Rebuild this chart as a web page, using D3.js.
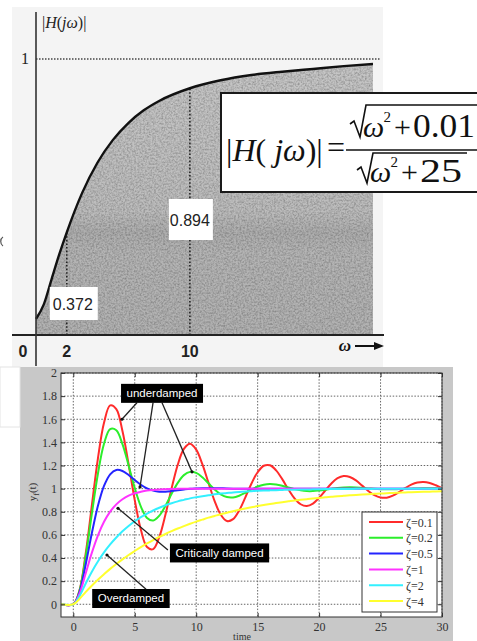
<!DOCTYPE html>
<html><head><meta charset="utf-8">
<script src="https://cdn.jsdelivr.net/npm/d3@7"></script>
<style>html,body{margin:0;padding:0;background:#fff;overflow:hidden}svg{display:block}</style>
</head><body>
<svg id="c" width="477" height="641"></svg>
<script>
// ---------- top chart data: |H(jw)| ----------
const omega = [0, 0.5, 1, 1.5, 2, 3, 4, 5, 6, 7, 8, 10, 12, 14, 16, 18, 20, 21.9];
const magH  = [0.058, 0.11, 0.2, 0.29, 0.372, 0.515, 0.625, 0.707, 0.768, 0.814, 0.848, 0.894, 0.923, 0.942, 0.954, 0.964, 0.974, 0.982];
const omegaTicks = [0, 2, 10];
const omegaTickLabels = ["0", "2", "10"];
const markedOmega = [2, 10];
const markedValue = [0.372, 0.894];
const markedLabels = ["0.372", "0.894"];

// ---------- bottom chart data: step responses ----------
const time = [-1, 0, 0.5, 1, 1.5, 2, 2.5, 3, 3.5, 4, 4.5, 5, 5.5, 6, 6.5, 7, 7.5, 8, 8.5, 9, 9.5,
  10, 10.5, 11, 11.5, 12, 12.5, 13, 13.5, 14, 14.5, 15, 15.5, 16, 16.5, 17, 17.5, 18, 18.5, 19, 19.5,
  20, 20.5, 21, 21.5, 22, 22.5, 23, 23.5, 24, 24.5, 25, 25.5, 26, 26.5, 27, 27.5, 28, 28.5, 29, 29.5, 30];
const zetaLabels = ["ζ=0.1", "ζ=0.2", "ζ=0.5", "ζ=1", "ζ=2", "ζ=4"];
const yZeta01 = [0, 0, 0.118, 0.431, 0.846, 1.258, 1.570, 1.720, 1.688, 1.498, 1.211, 0.901, 0.645, 0.495, 0.477, 0.583, 0.776, 1.003, 1.207, 1.344, 1.388,
  1.337, 1.212, 1.050, 0.892, 0.774, 0.720, 0.736, 0.812, 0.925, 1.045, 1.142, 1.198, 1.202, 1.158, 1.082, 0.994, 0.916, 0.865, 0.850, 0.871,
  0.921, 0.984, 1.045, 1.090, 1.109, 1.101, 1.071, 1.026, 0.980, 0.943, 0.923, 0.922, 0.940, 0.970, 1.004, 1.034, 1.053, 1.058, 1.049, 1.029, 1.005];
const yZeta02 = [0, 0, 0.115, 0.405, 0.775, 1.127, 1.388, 1.515, 1.505, 1.385, 1.201, 1.006, 0.845, 0.747, 0.724, 0.766, 0.852, 0.956, 1.050, 1.117, 1.145,
  1.136, 1.099, 1.046, 0.993, 0.951, 0.927, 0.924, 0.939, 0.964, 0.993, 1.018, 1.034, 1.040, 1.036, 1.025, 1.010, 0.996, 0.985, 0.979, 0.979,
  0.984, 0.991, 0.999, 1.006, 1.010, 1.011, 1.010, 1.006, 1.002, 0.998, 0.995, 0.994, 0.994, 0.996, 0.998, 1.000, 1.002, 1.003, 1.003, 1.003, 1.002];
const yZeta05 = [0, 0, 0.104, 0.340, 0.610, 0.849, 1.023, 1.124, 1.162, 1.153, 1.118, 1.075, 1.034, 1.002, 0.983, 0.974, 0.974, 0.979, 0.986, 0.993, 0.999,
  1.002, 1.004, 1.004, 1.004, 1.003, 1.001, 1, 1, 1, 1, 1, 1, 1, 1, 1, 1,
  1, 1, 1, 1, 1, 1, 1, 1, 1, 1, 1, 1, 1, 1, 1, 1, 1, 1, 1, 1, 1, 1, 1, 1, 1];
const yZeta1 = [0, 0, 0.090, 0.264, 0.442, 0.594, 0.713, 0.801, 0.864, 0.908, 0.939, 0.960, 0.973, 0.983, 0.989, 0.993, 0.995, 0.997, 0.998, 0.999, 0.999,
  1.000, 1, 1, 1, 1, 1, 1, 1, 1, 1, 1, 1, 1, 1, 1, 1, 1, 1, 1, 1,
  1, 1, 1, 1, 1, 1, 1, 1, 1, 1, 1, 1, 1, 1, 1, 1, 1, 1, 1, 1, 1];
const yZeta2 = [0, 0, 0.070, 0.178, 0.280, 0.370, 0.449, 0.518, 0.578, 0.631, 0.677, 0.718, 0.753, 0.784, 0.811, 0.835, 0.856, 0.874, 0.890, 0.903, 0.916,
  0.926, 0.935, 0.943, 0.951, 0.957, 0.962, 0.967, 0.971, 0.975, 0.978, 0.981, 0.983, 0.985, 0.987, 0.989, 0.990, 0.991, 0.992, 0.993, 0.994,
  0.995, 0.996, 0.996, 0.997, 0.997, 0.997, 0.998, 0.998, 0.998, 0.998, 0.999, 0.999, 0.999, 0.999, 0.999, 0.999, 0.999, 0.999, 1.000, 1.000, 1.000];
const yZeta4 = [0, 0, 0.046, 0.105, 0.160, 0.212, 0.260, 0.306, 0.348, 0.388, 0.426, 0.461, 0.495, 0.526, 0.555, 0.582, 0.608, 0.632, 0.655, 0.676, 0.696,
  0.715, 0.732, 0.749, 0.764, 0.779, 0.792, 0.805, 0.817, 0.828, 0.839, 0.849, 0.858, 0.867, 0.875, 0.883, 0.890, 0.897, 0.903, 0.909, 0.915,
  0.920, 0.925, 0.929, 0.934, 0.938, 0.942, 0.945, 0.949, 0.952, 0.955, 0.958, 0.960, 0.963, 0.965, 0.967, 0.969, 0.971, 0.973, 0.974, 0.976, 0.977];
const seriesValues = [yZeta01, yZeta02, yZeta05, yZeta1, yZeta2, yZeta4];
const seriesColors = ["#ff2b2b", "#2bee2b", "#2424ff", "#ff33ff", "#33f0ff", "#ffff2e"];
const timeTicks = [0, 5, 10, 15, 20, 25, 30];
const yTicks = [0, 0.2, 0.4, 0.6, 0.8, 1, 1.2, 1.4, 1.6, 1.8, 2];
const yTickLabels = ["0", "0.2", "0.4", "0.6", "0.8", "1", "1.2", "1.4", "1.6", "1.8", "2"];

// annotations (data coordinates: time, response)
const annoText = ["underdamped", "Critically damped", "Overdamped"];
const annoAt = [[7.22, 1.824], [11.9, 0.444], [4.69, 0.05]];
const annoFrom = [[[5.18, 1.743], [6.49, 1.743], [7.22, 1.743]], [[7.7, 0.47]], [[5.92, 0.13]]];
const annoTo = [[[3.96, 1.60], [5.43, 1.015], [9.66, 1.145]], [[3.64, 0.83]], [[2.74, 0.426]]];

const SERIF = "'Liberation Serif','Times New Roman',serif";
const SANS = "'Liberation Sans',Arial,sans-serif";
const svg = d3.select("#c");
const defs = svg.append("defs");

// ================= TOP CHART =================
const xTop = d3.scaleLinear().domain([0, d3.max(omega)]).range([36, 373]);
const yTop = d3.scaleLinear().domain([0, 1]).range([335, 59]);

svg.append("rect").attr("x", 12).attr("y", 7).attr("width", 371).attr("height", 360).attr("fill", "#f4f4f4");

const grad = defs.append("linearGradient").attr("id", "shade").attr("gradientUnits", "userSpaceOnUse")
  .attr("x1", 0).attr("x2", 0).attr("y1", yTop(1)).attr("y2", yTop(0));
[[0, "#c6c6c6"], [0.55, "#bdbdbd"], [0.63, "#aeaeae"], [0.7, "#b5b5b5"], [1, "#b2b2b2"]]
  .forEach(s => grad.append("stop").attr("offset", s[0]).attr("stop-color", s[1]));
const flt = defs.append("filter").attr("id", "grain").attr("x", 0).attr("y", 0).attr("width", 1).attr("height", 1);
flt.append("feTurbulence").attr("type", "fractalNoise").attr("baseFrequency", 0.55).attr("numOctaves", 2).attr("seed", 5).attr("result", "t");
flt.append("feColorMatrix").attr("in", "t").attr("type", "matrix")
  .attr("values", "0 0 0 0 0  0 0 0 0 0  0 0 0 0 0  0.9 0 0 0 -0.3").attr("result", "d");
flt.append("feComposite").attr("in", "d").attr("in2", "SourceGraphic").attr("operator", "in").attr("result", "dc");
const mg = flt.append("feMerge");
mg.append("feMergeNode").attr("in", "SourceGraphic");
mg.append("feMergeNode").attr("in", "dc");

const topData = omega.map((w, i) => [w, magH[i]]);
svg.append("path").datum(topData)
  .attr("d", d3.area().x(d => xTop(d[0])).y0(yTop(0)).y1(d => yTop(d[1])).curve(d3.curveMonotoneX))
  .attr("fill", "url(#shade)").attr("filter", "url(#grain)");

// dotted reference line at 1
svg.append("line").attr("x1", xTop(0)).attr("x2", 380).attr("y1", yTop(1)).attr("y2", yTop(1))
  .attr("stroke", "#444").attr("stroke-width", 1.3).attr("stroke-dasharray", "1.5,1.5");
// dotted verticals
svg.append("g").selectAll("line").data(markedOmega).join("line")
  .attr("x1", d => xTop(d)).attr("x2", d => xTop(d))
  .attr("y1", yTop(0)).attr("y2", (d, i) => yTop(markedValue[i]))
  .attr("stroke", "#222").attr("stroke-width", 1.6).attr("stroke-dasharray", "1.6,2");

// curve
svg.append("path").datum(topData)
  .attr("d", d3.line().x(d => xTop(d[0])).y(d => yTop(d[1])).curve(d3.curveMonotoneX))
  .attr("fill", "none").attr("stroke", "#111").attr("stroke-width", 2.4);

// axes
svg.append("line").attr("x1", 12).attr("x2", 384).attr("y1", yTop(0)).attr("y2", yTop(0)).attr("stroke", "#222").attr("stroke-width", 2);
svg.append("line").attr("x1", xTop(0)).attr("x2", xTop(0)).attr("y1", 12).attr("y2", 366).attr("stroke", "#333").attr("stroke-width", 1.6);

// marked value labels
const boxW = [48, 44], boxH = [33, 41], boxDx = [7, 1], boxCy = [303.5, 219.5];
markedOmega.forEach((w, i) => {
  const cx = xTop(w) + boxDx[i];
  svg.append("rect").attr("x", cx - boxW[i] / 2).attr("y", boxCy[i] - boxH[i] / 2)
    .attr("width", boxW[i]).attr("height", boxH[i]).attr("fill", "#fff");
  svg.append("text").attr("x", cx - 1).attr("y", boxCy[i] + 6).attr("text-anchor", "middle")
    .attr("font-family", SANS).attr("font-size", 16).attr("fill", "#222").text(markedLabels[i]);
});

// tick labels
svg.append("g").selectAll("text").data(omegaTicks).join("text")
  .attr("x", d => d === 0 ? xTop(0) - 13 : xTop(d)).attr("y", 357)
  .attr("text-anchor", "middle").attr("font-family", SANS).attr("font-weight", "bold")
  .attr("font-size", 16).attr("fill", "#222").text((d, i) => omegaTickLabels[i]);
svg.append("text").attr("x", 25).attr("y", yTop(1) + 5).attr("text-anchor", "middle")
  .attr("font-family", SERIF).attr("font-size", 16).attr("fill", "#222").text("1");

// y label |H(jω)|
const yl = svg.append("text").attr("x", 42).attr("y", 28).attr("font-family", SERIF).attr("font-size", 16).attr("fill", "#222");
yl.append("tspan").text("|");
yl.append("tspan").attr("font-style", "italic").text("H");
yl.append("tspan").text("(");
yl.append("tspan").attr("font-style", "italic").text("jω");
yl.append("tspan").text(")|");

// ω →
svg.append("text").attr("x", 345).attr("y", 351).attr("text-anchor", "middle").attr("font-family", SERIF)
  .attr("font-style", "italic").attr("font-weight", "bold").attr("font-size", 17).attr("fill", "#111").text("ω");
svg.append("line").attr("x1", 355).attr("x2", 377).attr("y1", 346).attr("y2", 346).attr("stroke", "#111").attr("stroke-width", 2);
svg.append("path").attr("d", "M374,342 L384,346 L374,350 Z").attr("fill", "#111");

// stray scan mark at left edge
svg.append("path").attr("d", "M3,237 A4,5 0 0 0 3,246").attr("fill", "none").attr("stroke", "#555").attr("stroke-width", 1.2);

// formula box
svg.append("rect").attr("x", 221).attr("y", 93).attr("width", 270).attr("height", 99)
  .attr("fill", "#fff").attr("stroke", "#1a1a1a").attr("stroke-width", 2);
const lhs = svg.append("text").attr("x", 226).attr("y", 161).attr("font-family", SERIF).attr("font-size", 32).attr("fill", "#111");
lhs.append("tspan").text("|");
lhs.append("tspan").attr("font-style", "italic").text("H");
lhs.append("tspan").text("(");
lhs.append("tspan").attr("font-style", "italic").text(" jω");
lhs.append("tspan").text(")|");
svg.append("text").attr("x", 336).attr("y", 158).attr("text-anchor", "middle").attr("font-family", SERIF).attr("font-size", 32).attr("fill", "#111").text("=");
svg.append("line").attr("x1", 346).attr("x2", 480).attr("y1", 150).attr("y2", 150).attr("stroke", "#111").attr("stroke-width", 1.6);
svg.append("path").attr("d", "M350,124 L354,121 L360,137 L366,105 L480,105").attr("fill", "none").attr("stroke", "#111").attr("stroke-width", 1.6);
svg.append("path").attr("d", "M357,170 L361,167 L367,183 L373,153 L467,153").attr("fill", "none").attr("stroke", "#111").attr("stroke-width", 1.6);
function radicand(x, y, num, numLen) {
  const f = (t) => svg.append("text").attr("y", y).attr("font-family", SERIF).attr("font-size", 30).attr("fill", "#111").text(t);
  f("ω").attr("x", x).attr("font-style", "italic");
  f("2").attr("x", x + 20.5).attr("y", y - 15).attr("font-size", 15);
  f("+").attr("x", x + 31);
  f(num).attr("x", x + 50).attr("font-size", 34).attr("textLength", numLen).attr("lengthAdjust", "spacingAndGlyphs");
}
radicand(363, 137, "0.01", 62);
radicand(370, 182, "25", 42);

// ================= BOTTOM CHART =================
const xB = d3.scaleLinear().domain([-1, 30]).range([61, 442]);
const yB = d3.scaleLinear().domain([-0.11, 2]).range([617, 373]);

svg.append("rect").attr("x", 20).attr("y", 367).attr("width", 433).attr("height", 274).attr("fill", "#c8c8c8");
svg.append("rect").attr("x", 0).attr("y", 367).attr("width", 20).attr("height", 60).attr("fill", "#fff").attr("stroke", "#e4e4e4");
svg.append("rect").attr("x", 61).attr("y", 373).attr("width", 381).attr("height", 244).attr("fill", "#fff");

// grid
const grid = svg.append("g").attr("stroke", "#666").attr("stroke-width", 1).attr("stroke-dasharray", "1.5,1.6");
grid.selectAll(".gx").data(timeTicks).join("line").attr("x1", d => xB(d)).attr("x2", d => xB(d)).attr("y1", 373).attr("y2", 617);
grid.selectAll(".gy").data(yTicks).join("line").attr("y1", d => yB(d)).attr("y2", d => yB(d)).attr("x1", 61).attr("x2", 442);

// curves
const lineGen = d3.line().x(d => xB(d[0])).y(d => yB(d[1])).curve(d3.curveCatmullRom);
svg.append("g").selectAll("path").data(seriesValues).join("path")
  .attr("d", vals => lineGen(vals.map((v, i) => [time[i], v])))
  .attr("fill", "none").attr("stroke", (d, i) => seriesColors[i]).attr("stroke-width", 2);

// axes (ticks inward)
function styleAxis(g) {
  g.select(".domain").remove();
  g.selectAll(".tick line").attr("stroke", "#333");
  g.selectAll("text").attr("font-family", SERIF).attr("font-size", 12).attr("fill", "#333");
}
svg.append("g").attr("transform", "translate(0,617)")
  .call(d3.axisBottom(xB).tickValues(timeTicks).tickSize(-4).tickPadding(5).tickFormat(d3.format("d"))).call(styleAxis);
svg.append("g").attr("transform", "translate(0,373)")
  .call(d3.axisTop(xB).tickValues(timeTicks).tickSize(-4).tickFormat("")).call(styleAxis);
svg.append("g").attr("transform", "translate(61,0)")
  .call(d3.axisLeft(yB).tickValues(yTicks).tickSize(-4).tickPadding(4).tickFormat((d, i) => yTickLabels[i])).call(styleAxis);
svg.append("g").attr("transform", "translate(442,0)")
  .call(d3.axisRight(yB).tickValues(yTicks).tickSize(-4).tickFormat("")).call(styleAxis);
svg.append("rect").attr("x", 61).attr("y", 373).attr("width", 381).attr("height", 244)
  .attr("fill", "none").attr("stroke", "#333").attr("stroke-width", 1);

// axis labels
const ylab = svg.append("text").attr("transform", "translate(36,492) rotate(-90)").attr("text-anchor", "middle")
  .attr("font-family", SERIF).attr("font-size", 11).attr("fill", "#333");
ylab.append("tspan").text("y");
ylab.append("tspan").attr("font-size", 8).attr("dy", 3).text("f");
ylab.append("tspan").attr("dy", -3).text("(t)");
svg.append("text").attr("x", 242).attr("y", 640).attr("text-anchor", "middle")
  .attr("font-family", SERIF).attr("font-size", 10).attr("fill", "#333").text("time");

// annotations
annoText.forEach((txt, k) => {
  annoFrom[k].forEach((f, j) => {
    const t = annoTo[k][j];
    svg.append("line").attr("x1", xB(f[0])).attr("y1", yB(f[1])).attr("x2", xB(t[0])).attr("y2", yB(t[1]))
      .attr("stroke", "#222").attr("stroke-width", 1.3);
    svg.append("circle").attr("cx", xB(t[0])).attr("cy", yB(t[1])).attr("r", 1.6).attr("fill", "#111");
  });
  const g = svg.append("g");
  const tx = g.append("text").attr("x", xB(annoAt[k][0])).attr("y", yB(annoAt[k][1]) + 4)
    .attr("text-anchor", "middle").attr("font-family", SANS).attr("font-size", 11.5).attr("fill", "#fff").text(txt);
  const bb = tx.node().getBBox();
  g.insert("rect", "text").attr("x", bb.x - 5.5).attr("y", yB(annoAt[k][1]) - 9.5)
    .attr("width", bb.width + 11).attr("height", 19).attr("fill", "#000");
});

// legend
svg.append("rect").attr("x", 362).attr("y", 512).attr("width", 75).attr("height", 100)
  .attr("fill", "#fff").attr("stroke", "#333").attr("stroke-width", 1);
const lg = svg.append("g").selectAll("g").data(zetaLabels).join("g")
  .attr("transform", (d, i) => `translate(0,${522 + i * 15.8})`);
lg.append("line").attr("x1", 369).attr("x2", 403).attr("stroke", (d, i) => seriesColors[i]).attr("stroke-width", 2);
lg.append("text").attr("x", 406).attr("y", 4.5).attr("font-family", SERIF).attr("font-size", 12).attr("fill", "#333").text(d => d);
</script>
</body></html>
